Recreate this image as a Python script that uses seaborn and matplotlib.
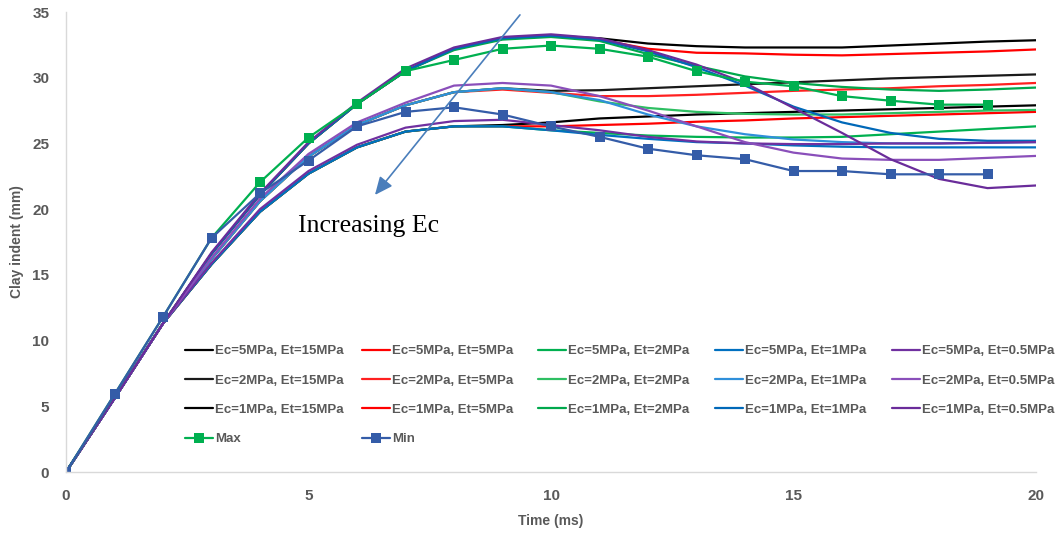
import numpy as np
import pandas as pd
import matplotlib
matplotlib.use("Agg")
import matplotlib.pyplot as plt
import seaborn as sns

# ---------------- data ----------------
time_ms = list(range(0, 21))

# Ec = 1 MPa (highest curves)
ec1_et15 = [0, 5.6, 11.3, 16.6, 21.1, 25.0, 28.0, 30.5, 32.2, 33.0, 33.2, 33.0, 32.6, 32.4, 32.3, 32.3, 32.3, 32.45, 32.6, 32.75, 32.85]
ec1_et5 = [0, 5.6, 11.3, 16.6, 21.1, 25.0, 28.0, 30.5, 32.2, 33.0, 33.2, 32.9, 32.2, 31.9, 31.85, 31.75, 31.7, 31.8, 31.9, 32.0, 32.15]
ec1_et2 = [0, 5.6, 11.3, 16.6, 21.1, 25.0, 28.0, 30.5, 32.1, 32.9, 33.1, 32.8, 31.8, 30.9, 30.1, 29.6, 29.3, 29.1, 29.0, 29.1, 29.25]
ec1_et1 = [0, 5.6, 11.3, 16.6, 21.1, 25.0, 28.0, 30.5, 32.2, 33.0, 33.2, 32.9, 32.0, 30.8, 29.4, 27.8, 26.6, 25.8, 25.35, 25.2, 25.2]
ec1_et05 = [0, 5.6, 11.3, 16.7, 21.2, 25.1, 28.1, 30.7, 32.3, 33.1, 33.3, 33.0, 32.1, 31.0, 29.6, 27.7, 25.8, 23.8, 22.3, 21.6, 21.8]

# Ec = 2 MPa
ec2_et15 = [0, 5.6, 11.3, 16.2, 20.6, 24.0, 26.4, 27.9, 28.9, 29.2, 29.0, 29.05, 29.2, 29.35, 29.5, 29.65, 29.8, 29.95, 30.05, 30.15, 30.25]
ec2_et5 = [0, 5.6, 11.3, 16.2, 20.6, 24.0, 26.4, 27.9, 28.9, 29.1, 28.85, 28.6, 28.6, 28.7, 28.85, 29.0, 29.1, 29.2, 29.35, 29.45, 29.6]
ec2_et2 = [0, 5.6, 11.3, 16.2, 20.6, 24.0, 26.4, 27.9, 28.9, 29.2, 28.9, 28.2, 27.7, 27.4, 27.25, 27.2, 27.2, 27.3, 27.4, 27.5, 27.55]
ec2_et1 = [0, 5.6, 11.3, 16.2, 20.6, 24.0, 26.4, 27.9, 28.9, 29.2, 28.9, 28.3, 27.2, 26.3, 25.7, 25.3, 25.1, 25.0, 25.0, 25.05, 25.1]
ec2_et05 = [0, 5.6, 11.3, 16.3, 20.8, 24.2, 26.6, 28.1, 29.4, 29.6, 29.4, 28.6, 27.5, 26.3, 25.1, 24.3, 23.85, 23.75, 23.75, 23.9, 24.05]

# Ec = 5 MPa (lowest curves)
ec5_et15 = [0, 5.6, 11.3, 15.8, 19.8, 22.7, 24.7, 25.9, 26.3, 26.4, 26.6, 26.9, 27.05, 27.2, 27.3, 27.4, 27.5, 27.6, 27.7, 27.8, 27.9]
ec5_et5 = [0, 5.6, 11.3, 15.8, 19.8, 22.7, 24.7, 25.9, 26.3, 26.3, 26.3, 26.4, 26.5, 26.65, 26.75, 26.9, 27.0, 27.1, 27.2, 27.3, 27.4]
ec5_et2 = [0, 5.6, 11.3, 15.8, 19.8, 22.7, 24.7, 25.9, 26.3, 26.3, 26.0, 25.8, 25.6, 25.5, 25.45, 25.45, 25.5, 25.7, 25.9, 26.1, 26.3]
ec5_et1 = [0, 5.6, 11.3, 15.8, 19.8, 22.7, 24.7, 25.9, 26.3, 26.3, 26.0, 25.65, 25.35, 25.1, 25.0, 24.85, 24.75, 24.7, 24.7, 24.7, 24.7]
ec5_et05 = [0, 5.6, 11.3, 15.9, 20.0, 22.9, 24.9, 26.2, 26.7, 26.8, 26.4, 26.0, 25.5, 25.15, 25.0, 24.95, 24.95, 25.0, 25.0, 25.05, 25.1]

marker_time = list(range(0, 20))
max_values = [0, 5.9, 11.8, 17.8, 22.05, 25.45, 28.0, 30.5, 31.35, 32.2, 32.45, 32.2, 31.6, 30.5, 29.7, 29.35, 28.6, 28.25, 27.95, 27.95]
min_values = [0, 5.9, 11.8, 17.8, 21.2, 23.7, 26.3, 27.4, 27.75, 27.2, 26.3, 25.5, 24.6, 24.1, 23.8, 22.9, 22.9, 22.65, 22.65, 22.65]

xticks = [0, 5, 10, 15, 20]
yticks = [0, 5, 10, 15, 20, 25, 30, 35]

# ---------------- style ----------------
sns.set_theme(style="white")
plt.rcParams['font.family'] = ['Liberation Sans', 'DejaVu Sans']

fig = plt.figure(figsize=(10.55, 5.35), dpi=100)
ax = fig.add_axes([66/1055, 63/535, 970/1055, 460/535])

gray_txt = "#595959"
lw = 1.6

series = [
    ("Ec=5MPa, Et=15MPa", ec5_et15, "#000000"),
    ("Ec=2MPa, Et=15MPa", ec2_et15, "#1a1a1a"),
    ("Ec=1MPa, Et=15MPa", ec1_et15, "#000000"),
    ("Ec=5MPa, Et=5MPa", ec5_et5, "#FF0000"),
    ("Ec=2MPa, Et=5MPa", ec2_et5, "#FF2020"),
    ("Ec=1MPa, Et=5MPa", ec1_et5, "#FF0000"),
    ("Ec=5MPa, Et=2MPa", ec5_et2, "#00B050"),
    ("Ec=2MPa, Et=2MPa", ec2_et2, "#2EBF62"),
    ("Ec=1MPa, Et=2MPa", ec1_et2, "#00A84C"),
    ("Ec=5MPa, Et=1MPa", ec5_et1, "#0070C0"),
    ("Ec=2MPa, Et=1MPa", ec2_et1, "#2F8FDA"),
    ("Ec=1MPa, Et=1MPa", ec1_et1, "#0068B8"),
    ("Ec=5MPa, Et=0.5MPa", ec5_et05, "#7030A0"),
    ("Ec=2MPa, Et=0.5MPa", ec2_et05, "#8A4FBA"),
    ("Ec=1MPa, Et=0.5MPa", ec1_et05, "#6A2C9A"),
]

for name, vals, col in series:
    sns.lineplot(x=time_ms, y=vals, ax=ax, color=col, linewidth=lw, label=name)

sns.lineplot(x=marker_time, y=max_values, ax=ax, color="#00B050", linewidth=lw,
             marker="s", markersize=6.5, markeredgewidth=0, label="Max")
sns.lineplot(x=marker_time, y=min_values, ax=ax, color="#345CA8", linewidth=lw,
             marker="s", markersize=6.5, markeredgewidth=0, label="Min")

h, l = ax.get_legend_handles_labels()
hd = dict(zip(l, h))
if ax.get_legend():
    ax.get_legend().remove()

columns = [
    ["Ec=5MPa, Et=15MPa", "Ec=2MPa, Et=15MPa", "Ec=1MPa, Et=15MPa", "Max"],
    ["Ec=5MPa, Et=5MPa", "Ec=2MPa, Et=5MPa", "Ec=1MPa, Et=5MPa", "Min"],
    ["Ec=5MPa, Et=2MPa", "Ec=2MPa, Et=2MPa", "Ec=1MPa, Et=2MPa"],
    ["Ec=5MPa, Et=1MPa", "Ec=2MPa, Et=1MPa", "Ec=1MPa, Et=1MPa"],
    ["Ec=5MPa, Et=0.5MPa", "Ec=2MPa, Et=0.5MPa", "Ec=1MPa, Et=0.5MPa"],
]
col_x = [185, 362, 538, 715, 892]
for cx, names in zip(col_x, columns):
    fig.legend([hd[n] for n in names], names, loc="upper left",
               bbox_to_anchor=(cx/1055, 1 - 345/535), bbox_transform=fig.transFigure,
               frameon=False, labelcolor=gray_txt, prop={'weight': 'bold', 'size': 9.5},
               handlelength=2.1, handletextpad=0.2, labelspacing=1.3,
               borderaxespad=0, borderpad=0)

ax.set_xlim(0, 20)
ax.set_ylim(0, 35)
ax.set_xticks(xticks)
ax.set_yticks(yticks)
for s in ["top", "right"]:
    ax.spines[s].set_visible(False)
for s in ["left", "bottom"]:
    ax.spines[s].set_color("#D9D9D9")
    ax.spines[s].set_linewidth(1.0)
ax.tick_params(axis="both", direction="in", length=5, width=1, color="#D9D9D9",
               labelsize=11, labelcolor=gray_txt, pad=12)
for t in ax.get_xticklabels() + ax.get_yticklabels():
    t.set_fontweight("bold")

ax.set_xlabel("Time (ms)", fontsize=10, color=gray_txt, fontweight="bold", labelpad=8)
ax.set_ylabel("Clay indent (mm)", fontsize=10, color=gray_txt, fontweight="bold", labelpad=6)

ax.annotate("", xy=(6.37, 21.08), xytext=(9.36, 34.78),
            arrowprops=dict(arrowstyle="-|>,head_length=0.9,head_width=0.4",
                            color="#4A7EBB", lw=1.2, shrinkA=0, shrinkB=0))
ax.text(6.23, 18.7, "Increasing Ec", fontsize=18.5, family="Liberation Serif",
        color="#000000", ha="center", va="center")

fig.savefig("out.png", dpi=100)
